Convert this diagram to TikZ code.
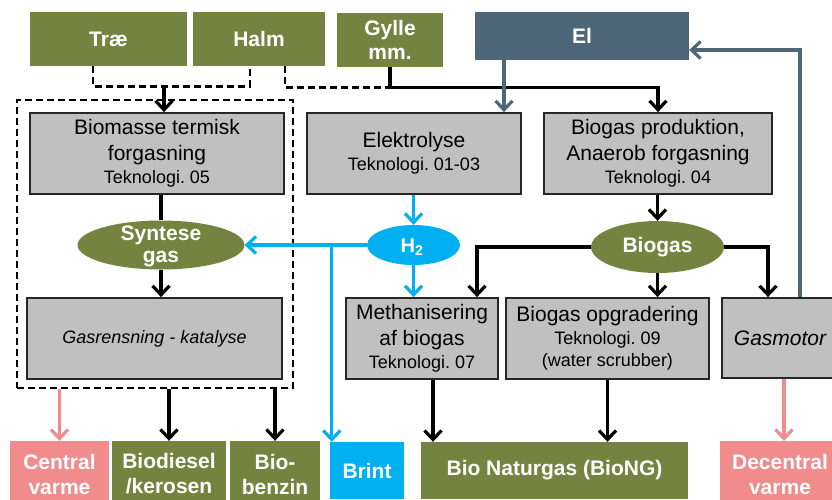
\documentclass[tikz,border=0pt]{standalone}
\usepackage{fontspec}
\setmainfont{Liberation Sans}
\usetikzlibrary{arrows.meta,shapes.geometric}
\definecolor{oliveg}{RGB}{116,132,64}
\definecolor{slate}{RGB}{77,103,121}
\definecolor{skyc}{RGB}{0,176,240}
\definecolor{rosec}{RGB}{241,140,140}
\definecolor{boxgray}{RGB}{192,192,192}
\frenchspacing
\newcommand\tekfont{\fontsize{18}{21}\selectfont}
\tikzset{
  lbl/.style={font=\bfseries\fontsize{21}{25}\selectfont, text=white, align=center, inner sep=0pt},
  src/.style={lbl, fill=oliveg, minimum height=54pt},
  proc/.style={draw=black!85, line width=1.8pt, fill=boxgray, align=center, inner sep=0pt,
    font=\fontsize{21}{26}\selectfont},
  ell/.style={ellipse, fill=oliveg, inner sep=0pt},
  tip/.style={-{Straight Barb[length=9pt,width=17pt]}},
  con/.style={line width=3.2pt, black, tip},
  hcon/.style={line width=3.2pt, skyc, tip},
  elcon/.style={line width=3.2pt, slate, tip},
  pcon/.style={line width=3.2pt, rosec, tip},
  dashline/.style={line width=2.8pt, dash pattern=on 7pt off 4pt},
}
\begin{document}
\begin{tikzpicture}[x=1pt,y=-1pt]
\useasboundingbox (0,0) rectangle (832,499);

% raw materials and electricity
\node[src, minimum width=157pt] (trae) at (108.5,39) {Træ};
\node[src, minimum width=132pt] (halm) at (259,39) {Halm};
\node[src, minimum width=106pt] (gylle) at (390,40) {Gylle\\[-1pt]mm.};
\node[lbl, fill=slate, minimum width=214pt, minimum height=48pt] (el) at (582,36) {El};

% thermal gasification group
\node[draw, dashline, line width=2.2pt, minimum width=276pt, minimum height=288pt, inner sep=0pt] (frame) at (155,244) {};

% conversion steps
\node[proc, minimum width=254pt, minimum height=81pt] (bio) at (157,153.5)
  {Biomasse termisk\\forgasning\\[-3pt]{\tekfont Teknologi. 05}};
\node[proc, minimum width=214pt, minimum height=81pt] (elek) at (414,153.5)
  {Elektrolyse\\[-3pt]{\tekfont Teknologi. 01-03}};
\node[proc, minimum width=228pt, minimum height=81pt] (bgp) at (658,153.5)
  {Biogas produktion,\\Anaerob forgasning\\[-3pt]{\tekfont Teknologi. 04}};

\node[ell, minimum width=167pt, minimum height=49pt] (syn) at (161,245) {};
\node[lbl] (syntxt) at (161,246) {Syntese\\[-3pt]gas};
\node[ell, fill=skyc, minimum width=93pt, minimum height=40pt] (h2) at (413.5,245) {};
\node[lbl, font=\bfseries\fontsize{20}{24}\selectfont] (h2txt) at (412,247) {H\textsubscript{2}};
\node[ell, lbl, minimum width=133pt, minimum height=52pt] (bgas) at (657.5,247) {Biogas};

\node[proc, minimum width=255pt, minimum height=81pt, font=\itshape\fontsize{18}{21}\selectfont] (gas) at (154.5,338.5)
  {Gasrensning - katalyse};
\node[proc, minimum width=152pt, minimum height=81pt] (meth) at (422,338.5)
  {Methanisering\\af biogas\\[-3pt]{\tekfont Teknologi. 07}};
\node[proc, minimum width=203pt, minimum height=81pt] (opg) at (607.5,338.5)
  {Biogas opgradering\\[-3pt]{\tekfont Teknologi. 09}\\[-4pt]{\tekfont (water scrubber)}};
\node[proc, minimum width=116pt, minimum height=80pt, font=\itshape\fontsize{21}{25}\selectfont] (gmot) at (780,338)
  {Gasmotor};

% products
\node[lbl, fill=rosec, minimum width=99pt, minimum height=66pt] (central) at (59.5,474) {Central\\varme};
\node[lbl, fill=oliveg, minimum width=114pt, minimum height=66pt] (diesel) at (169,474) {Biodiesel\\/kerosen};
\node[lbl, fill=oliveg, minimum width=90pt, minimum height=66pt] (benzin) at (275,474) {Bio-\\benzin};
\node[lbl, fill=skyc, minimum width=74pt, minimum height=57pt] (brint) at (367,470.5) {Brint};
\node[lbl, fill=oliveg, minimum width=267pt, minimum height=57pt] (biong) at (554.5,470.5) {Bio Naturgas (BioNG)};
\node[lbl, fill=rosec, minimum width=120pt, minimum height=66pt] (decentral) at (780,474) {Decentral\\varme};

% feedstock connections
\coordinate (jg) at ([yshift=-20pt]gylle.south);
\coordinate (jt) at ([xshift=7pt]bio.north |- jg);
\draw[dashline] ([xshift=-15.5pt]trae.south) -- ++(0,20) -| ([xshift=-9pt]halm.south);
\draw[dashline] ([xshift=26pt]halm.south) |- (jg);
\draw[con] (jt) -- (jt |- bio.north);
\draw[con] (gylle.south) -- (jg) -| (bgp.north);

% electricity
\draw[elcon] ([xshift=-78pt]el.south) -- ([xshift=-78pt]el.south |- elek.north);
\draw[elcon] ([xshift=20pt]gmot.north) |- ([yshift=-14pt]el.east);

% hydrogen
\draw[hcon] (h2.north |- elek.south) -- (h2.north);
\draw[hcon] (h2.west) -- (syn.east);
\draw[hcon] ([xshift=2pt]brint.north west |- h2.west) -- ([xshift=2pt]brint.north west);
\draw[hcon] (h2.south) -- (h2.south |- meth.north);

% gas flows
\draw[line width=3.2pt] (syn.north |- bio.south) -- (syn.north);
\draw[con] (syn.south) -- (syn.south |- gas.north);
\draw[con] (bgas.north |- bgp.south) -- (bgas.north);
\draw[con] (bgas.west) -| ([xshift=55pt]meth.north);
\draw[con] (bgas.south) -- (bgas.south |- opg.north);
\draw[con] (bgas.east) -| ([xshift=-12pt]gmot.north);

% outputs
\draw[pcon] (central.north |- frame.south) -- (central.north);
\draw[con] (diesel.north |- frame.south) -- (diesel.north);
\draw[con] (benzin.north |- frame.south) -- (benzin.north);
\draw[con] ([xshift=11pt]meth.south) -- ([xshift=11pt]meth.south |- biong.north);
\draw[con] (opg.south) -- (opg.south |- biong.north);
\draw[pcon] ([xshift=4pt]gmot.south) -- ([xshift=4pt]gmot.south |- decentral.north);
\end{tikzpicture}
\end{document}
